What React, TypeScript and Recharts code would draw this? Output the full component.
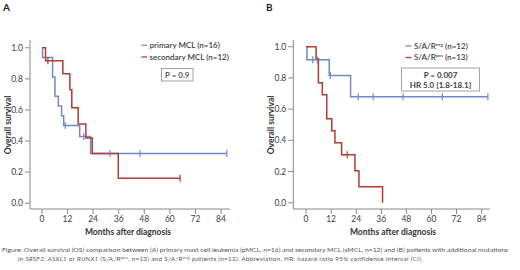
import React from 'react';
import { LineChart, Line, XAxis, YAxis } from 'recharts';

// ---- data ----
const monthTicks = [0, 12, 24, 36, 48, 60, 72, 84];
const survTicks = [0, 0.2, 0.4, 0.6, 0.8, 1.0];

// Panel A
const primaryMonths = [0, 0.3, 5, 6.1, 7.7, 9.2, 10.2, 10.9, 17.7, 19.6, 22.8, 31.9, 46, 86.7];
const primarySurv = [1, 0.9375, 0.8125, 0.6875, 0.625, 0.5625, 0.5, 0.5, 0.43, 0.43, 0.32, 0.32, 0.32, 0.32];
const primaryCens = [0, 0, 0, 0, 0, 0, 0, 1, 0, 1, 0, 1, 1, 1];

const secondaryMonths = [0, 1.7, 2.8, 9.8, 13.1, 14, 17, 20.6, 23.6, 35.8, 64.8];
const secondarySurv = [1, 0.917, 0.917, 0.833, 0.73, 0.615, 0.51, 0.42, 0.32, 0.16, 0.16];
const secondaryCens = [0, 0, 1, 0, 0, 0, 0, 0, 0, 0, 1];

// Panel B
const negMonths = [0, 0.4, 3.2, 5.4, 11.1, 11.6, 21.3, 25, 32.1, 46.4, 65.2, 87];
const negSurv = [1, 0.917, 0.917, 0.917, 0.815, 0.815, 0.679, 0.679, 0.679, 0.679, 0.679, 0.679];
const negCens = [0, 0, 1, 1, 0, 1, 0, 1, 1, 1, 1, 1];

const posMonths = [0, 4.8, 5.9, 7.8, 9.9, 12.3, 13.8, 17, 19.7, 23.4, 25.3, 36.6];
const posSurv = [1, 0.923, 0.769, 0.692, 0.538, 0.462, 0.385, 0.308, 0.308, 0.205, 0.103, 0];
const posCens = [0, 0, 0, 0, 0, 0, 0, 0, 1, 0, 0, 0];

const legendA = ['primary MCL (n=16)', 'secondary MCL (n=12)'];
const statsA = ['P = 0.9'];
const statsB = ['P = 0.007', 'HR 5.0 [1.8-18.1]'];

const build = (m: number[], s: number[], c: number[]) =>
  m.map((month, i) => ({ month, surv: s[i], censored: c[i] }));

const primaryData = build(primaryMonths, primarySurv, primaryCens);
const secondaryData = build(secondaryMonths, secondarySurv, secondaryCens);
const negData = build(negMonths, negSurv, negCens);
const posData = build(posMonths, posSurv, posCens);

const BLUE = '#7189c9';
const RED = '#b23b31';
const AXIS = '#8a8a8a';
const FONT = 'Lato, "Open Sans", sans-serif';

const censorDot = (color: string) => (props: any) => {
  const { cx, cy, payload, index } = props;
  if (!payload || !payload.censored || cx == null || cy == null) return <g key={`n${index}`} />;
  return (
    <line key={`c${index}`} x1={cx} x2={cx} y1={cy - 3.5} y2={cy + 3.5} stroke={color} strokeWidth={1.2} />
  );
};

const tickStyle = { fontSize: 8.5, fill: '#404040', fontFamily: FONT };

function Panel(props: {
  left: number;
  marginLeft: number;
  xDomain: [number, number];
  yDomain: [number, number];
  blue: any[];
  red: any[];
}) {
  return (
    <div style={{ position: 'absolute', left: props.left, top: 0 }}>
      <LineChart
        width={250}
        height={230}
        margin={{ top: 40, right: 20, bottom: 1, left: props.marginLeft }}
      >
        <XAxis
          type="number"
          dataKey="month"
          domain={props.xDomain}
          allowDataOverflow
          ticks={monthTicks}
          interval={0}
          stroke={AXIS}
          tickSize={5}
          tickMargin={2}
          height={20}
          tick={tickStyle}
        />
        <YAxis
          type="number"
          domain={props.yDomain}
          allowDataOverflow
          ticks={survTicks}
          interval={0}
          tickFormatter={(v: number) => v.toFixed(1)}
          stroke={AXIS}
          tickSize={5}
          tickMargin={2}
          width={25}
          tick={tickStyle}
        />
        <Line
          data={props.blue}
          dataKey="surv"
          type="stepAfter"
          stroke={BLUE}
          strokeWidth={1.5}
          dot={censorDot(BLUE)}
          activeDot={false}
          isAnimationActive={false}
        />
        <Line
          data={props.red}
          dataKey="surv"
          type="stepAfter"
          stroke={RED}
          strokeWidth={1.5}
          dot={censorDot(RED)}
          activeDot={false}
          isAnimationActive={false}
        />
      </LineChart>
    </div>
  );
}

export default function App() {
  const lab = { fontFamily: FONT, fontWeight: 700, fill: '#333', fontSize: 8.5 } as const;
  const leg = { fontFamily: FONT, fontWeight: 600, fill: '#404040', fontSize: 8 } as const;
  const sup = { fontSize: 4.5 } as const;
  const cap = { fontFamily: FONT, fontSize: 6.3, fill: '#555', fontWeight: 400 } as const;
  return (
    <div style={{ position: 'absolute', left: 0, top: 0, width: 520, height: 270, background: '#fff' }}>
      <Panel left={0} marginLeft={5} xDomain={[-5.6, 88.2]} yDomain={[-0.037, 1.05]} blue={primaryData} red={secondaryData} />
      <Panel left={260} marginLeft={8.3} xDomain={[-6.1, 88]} yDomain={[-0.04, 1.043]} blue={negData} red={posData} />
      <svg width={520} height={270} style={{ position: 'absolute', left: 0, top: 0, pointerEvents: 'none' }}>
        {/* panel letters */}
        <text x={3} y={10.5} style={{ ...lab, fontSize: 10, fill: '#222' }}>A</text>
        <text x={266} y={10.5} style={{ ...lab, fontSize: 10, fill: '#222' }}>B</text>
        {/* axis titles */}
        <text transform="translate(8,125) rotate(-90)" textAnchor="middle" dominantBaseline="central" style={lab}>Overall survival</text>
        <text transform="translate(271,125) rotate(-90)" textAnchor="middle" dominantBaseline="central" style={lab}>Overall survival</text>
        <text x={128} y={234.5} textAnchor="middle" style={lab}>Months after diagnosis</text>
        <text x={393} y={234.5} textAnchor="middle" style={lab}>Months after diagnosis</text>
        {/* legend A */}
        <line x1={141.5} x2={147} y1={45.3} y2={45.3} stroke={BLUE} strokeWidth={1.3} />
        <line x1={141.5} x2={147} y1={57} y2={57} stroke={RED} strokeWidth={1.3} />
        <text x={149.5} y={48} style={leg}>{legendA[0]}</text>
        <text x={149.5} y={59.7} style={leg}>{legendA[1]}</text>
        <rect x={161.5} y={68.5} width={31.5} height={12.5} fill="#fff" stroke="#8c8c8c" strokeWidth={0.8} />
        <text x={177.25} y={77.8} textAnchor="middle" style={leg}>{statsA[0]}</text>
        {/* legend B */}
        <line x1={405.5} x2={411.5} y1={46} y2={46} stroke={BLUE} strokeWidth={1.3} />
        <line x1={405.5} x2={411.5} y1={57.5} y2={57.5} stroke={RED} strokeWidth={1.3} />
        <text x={414} y={48.7} style={leg}>
          S/A/R<tspan dy={-3} style={sup}>neg</tspan><tspan dy={3}> (n=12)</tspan>
        </text>
        <text x={414} y={60.2} style={leg}>
          S/A/R<tspan dy={-3} style={sup}>pos</tspan><tspan dy={3}> (n=13)</tspan>
        </text>
        <rect x={401.5} y={68} width={78} height={23} fill="#fff" stroke="#8c8c8c" strokeWidth={0.8} />
        <text x={440.5} y={77.5} textAnchor="middle" style={{ ...leg, fontWeight: 700 }}>{statsB[0]}</text>
        <text x={440.5} y={88} textAnchor="middle" style={{ ...leg, fontWeight: 700 }}>{statsB[1]}</text>
        {/* caption */}
        <text x={2} y={252} textLength={506} lengthAdjust="spacingAndGlyphs" style={cap}>
          Figure: Overall survival (OS) comparison between (A) primary mast cell leukemia (pMCL, n=16) and secondary MCL (sMCL, n=12) and (B) patients with additional mutations
        </text>
        <text x={18} y={261} style={{ ...cap, letterSpacing: 0.3 }}>
          in <tspan fontStyle="italic">SRSF2</tspan>, <tspan fontStyle="italic">ASXL1</tspan> or <tspan fontStyle="italic">RUNX1</tspan> (S/A/R<tspan dy={-2} fontSize={4}>pos</tspan><tspan dy={2}>, n=13) and S/A/R</tspan><tspan dy={-2} fontSize={4}>neg</tspan><tspan dy={2}> patients (n=12). Abbreviation, HR: hazard ratio 95% confidence interval (CI).</tspan>
        </text>
      </svg>
    </div>
  );
}
